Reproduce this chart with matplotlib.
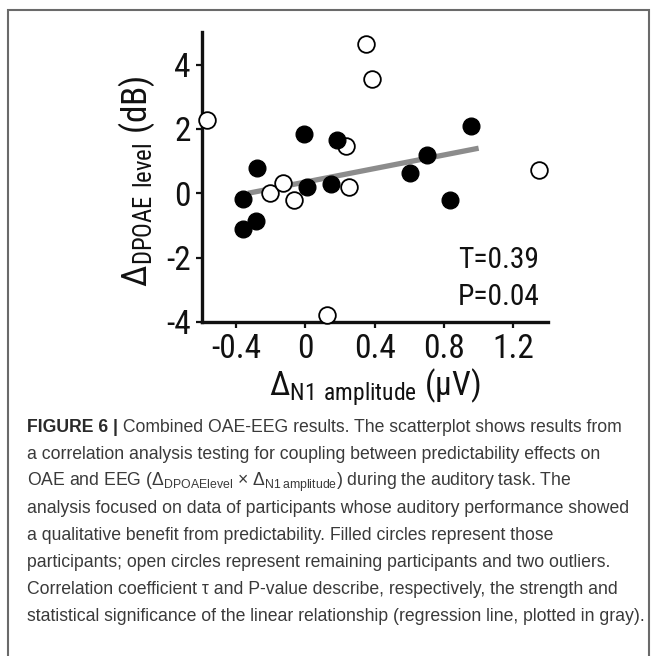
import matplotlib
matplotlib.use('Agg')
import matplotlib.pyplot as plt
from matplotlib import font_manager as fm
from matplotlib.patches import Rectangle

# ---- data ----
filled_x = [-0.006, 0.183, 0.956, 0.702, 0.606, -0.279, -0.360, -0.283, -0.360, 0.013, 0.150, 0.837]
filled_y = [1.84, 1.66, 2.10, 1.19, 0.62, 0.79, -0.19, -0.86, -1.12, 0.19, 0.28, -0.21]
open_x = [-0.564, 0.348, 0.383, 0.235, 1.350, -0.206, -0.129, -0.067, 0.252, 0.125]
open_y = [2.28, 4.64, 3.54, 1.48, 0.71, 0.02, 0.31, -0.21, 0.21, -3.79]
reg_x = [-0.33, 1.00]
reg_y = [0.00, 1.40]
x_ticks = [-0.4, 0.0, 0.4, 0.8, 1.2]
x_ticklabels = ['-0.4', '0', '0.4', '0.8', '1.2']
y_ticks = [-4, -2, 0, 2, 4]
y_ticklabels = ['-4', '-2', '0', '2', '4']
stat_labels = ['T=0.39', 'P=0.04']
caption_lines = [
    [("FIGURE 6 |", 'bold'), (" Combined OAE-EEG results. The scatterplot shows results from", 'normal')],
    [("a correlation analysis testing for coupling between predictability effects on", 'normal')],
    [(r"OAE and EEG ($\Delta_{DPOAElevel}$ × $\Delta_{N1\,amplitude}$) during the auditory task. The", 'normal')],
    [("analysis focused on data of participants whose auditory performance showed", 'normal')],
    [("a qualitative benefit from predictability. Filled circles represent those", 'normal')],
    [("participants; open circles represent remaining participants and two outliers.", 'normal')],
    [("Correlation coefficient τ and P-value describe, respectively, the strength and", 'normal')],
    [("statistical significance of the linear relationship (regression line, plotted in gray).", 'normal')],
]

names = {f.name for f in fm.fontManager.ttflist}
narrow = 'Liberation Sans'
for cand in ['Liberation Sans Narrow', 'Roboto Condensed', 'Open Sans Condensed', 'Arial Narrow']:
    if cand in names:
        narrow = cand
        break
capfont = 'Liberation Sans'
plt.rcParams['mathtext.default'] = 'regular'

W, H = 657, 656
fig = plt.figure(figsize=(W / 100, H / 100), dpi=100)
fig.patch.set_facecolor('white')

ax_l, ax_r, ax_t, ax_b = 201.7, 548.0, 31.7, 322.0
ax = fig.add_axes([ax_l / W, 1 - ax_b / H, (ax_r - ax_l) / W, (ax_b - ax_t) / H])
ax.set_xlim(-0.597, 1.40)
ax.set_ylim(-4, 5.02)

ax.plot(reg_x, reg_y, color='#8c8c8c', lw=3.8, solid_capstyle='butt', zorder=2)
ax.plot(open_x, open_y, 'o', ms=12, mfc='white', mec='black', mew=1.3, ls='none', zorder=3, clip_on=False)
ax.plot(filled_x, filled_y, 'o', ms=12, mfc='black', mec='black', mew=1.0, ls='none', zorder=4, clip_on=False)

for s in ['top', 'right']:
    ax.spines[s].set_visible(False)
for s in ['left', 'bottom']:
    ax.spines[s].set_linewidth(2.4)
    ax.spines[s].set_color('#111111')

ax.set_xticks(x_ticks)
ax.set_xticklabels(x_ticklabels)
ax.set_yticks(y_ticks)
ax.set_yticklabels(y_ticklabels)
ax.tick_params(direction='out', length=4, width=1.6, color='#111111', labelsize=24, labelcolor='#111111')
ax.tick_params(axis='x', pad=4)
ax.tick_params(axis='y', pad=4)
for lab in ax.get_xticklabels() + ax.get_yticklabels():
    lab.set_family(narrow)

xl = ax.set_xlabel(r"$\Delta_{N1\ amplitude}$ (μV)", family=narrow, fontsize=25, color='#111111')
yl = ax.set_ylabel(r"$\Delta_{DPOAE\ level}$ (dB)", family=narrow, fontsize=25, color='#111111')

st1 = ax.text(1.35, -2.32, stat_labels[0], ha='right', va='baseline', family=narrow, fontsize=22, color='#111111')
st2 = ax.text(1.35, -3.47, stat_labels[1], ha='right', va='baseline', family=narrow, fontsize=22, color='#111111')

# border
fig.patches.append(Rectangle((8 / W, -0.1), (649 - 8) / W, 1.1 - 10 / H, fill=False,
                             edgecolor='#6a6a6a', lw=1.5, transform=fig.transFigure, figure=fig))

fig.canvas.draw()
r = fig.canvas.get_renderer()

# fit label lengths to the reference (about 212 px each) and stats width (about 81 px)
wx = xl.get_window_extent(r).width
xl.set_fontsize(25 * 212 / wx)
hy = yl.get_window_extent(r).height
yl.set_fontsize(25 * 212 / hy)
ws = st1.get_window_extent(r).width
for st in (st1, st2):
    st.set_fontsize(22 * 81 / ws)
ax.xaxis.set_label_coords(0.5, (ax_b - 367) / (ax_b - ax_t))
ax.yaxis.set_label_coords((157 - ax_l) / (ax_r - ax_l), (ax_b - 181) / (ax_b - ax_t))

# caption: fit font size to width of the longest line
probe = fig.text(0, 0, caption_lines[7][0][0], family=capfont, fontsize=13)
w = probe.get_window_extent(r).width
probe.remove()
fs = 13 * 617 / w

x0 = 27
y0 = 432
dy = 27
for i, line in enumerate(caption_lines):
    x = x0
    for txt, wt in line:
        t = fig.text(x / W, 1 - (y0 + dy * i) / H, txt, family=capfont, fontsize=fs,
                     weight=wt, color='#2a2a2a' if wt == 'bold' else '#3a3a3a', va='baseline', ha='left')
        x += t.get_window_extent(r).width

fig.savefig('out.png', dpi=100)
